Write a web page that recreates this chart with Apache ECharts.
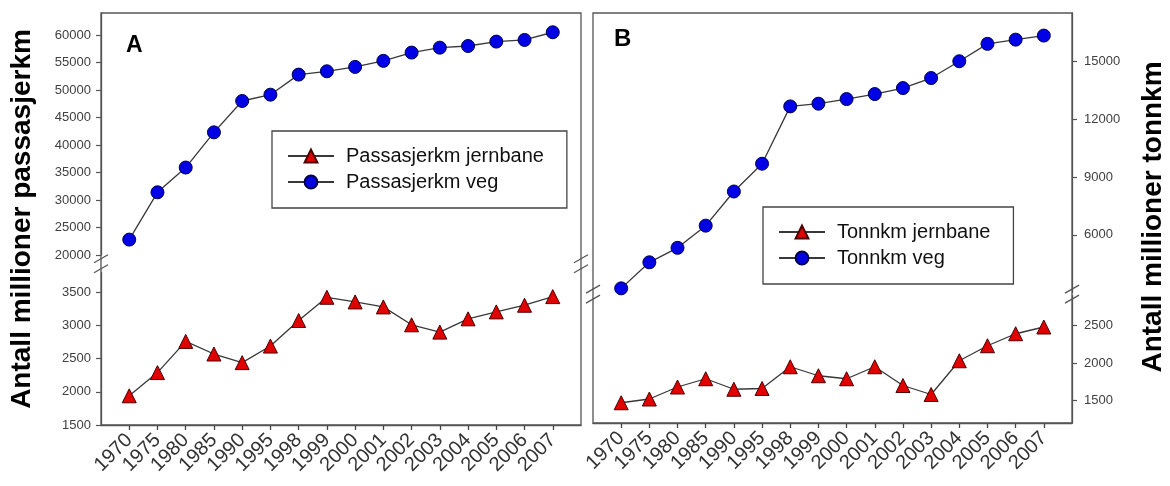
<!DOCTYPE html>
<html>
<head>
<meta charset="utf-8">
<script src="https://cdn.jsdelivr.net/npm/echarts@6/dist/echarts.min.js"></script>
<style>
  html, body { margin: 0; padding: 0; background: #fff; }
  #chart { width: 1170px; height: 486px; }
</style>
</head>
<body>
<div id="chart"></div>
<script>
// Passenger and freight transport in Norway, rail vs. road
const years = ['1970','1975','1980','1985','1990','1995','1998','1999','2000','2001','2002','2003','2004','2005','2006','2007'];

// Panel A: million passenger-km
const passRail = [1940, 2290, 2760, 2570, 2440, 2690, 3075, 3425, 3355, 3280, 3010, 2900, 3100, 3205, 3305, 3435];
const passRoad = [22800, 31400, 35900, 42300, 48000, 49150, 52800, 53400, 54200, 55300, 56800, 57700, 58000, 58800, 59100, 60500];

// Panel B: million tonne-km
const tonRail = [1470, 1520, 1680, 1790, 1650, 1660, 1950, 1830, 1790, 1950, 1700, 1580, 2030, 2230, 2390, 2480];
const tonRoad = [3230, 4580, 5330, 6480, 8250, 9690, 12660, 12800, 13040, 13300, 13610, 14130, 15000, 15900, 16120, 16330];

// Tick values on the broken y axes
const ticksAUpper = [20000, 25000, 30000, 35000, 40000, 45000, 50000, 55000, 60000];
const ticksALower = [1500, 2000, 2500, 3000, 3500];
const ticksBUpper = [6000, 9000, 12000, 15000];
const ticksBLower = [1500, 2000, 2500];

const FONT = '"Liberation Sans", Arial, Helvetica, sans-serif';
const FRAME = '#555';

// Panel layout: each panel is an upper and a lower grid sharing one frame
const PA = { left: 101, width: 480, top: 13, bottom: 425, upperBottom: 255, lowerTop: 272.4 };
const PB = { left: 593, width: 479, top: 13, bottom: 423, upperBottom: 292.8, lowerTop: 295.5 };

const idx = years.map((_, i) => i);
const toPairs = arr => arr.map((v, i) => [i, v]);

function grid(p, upper) {
  return upper
    ? { left: p.left, width: p.width, top: p.top, height: p.upperBottom - p.top }
    : { left: p.left, width: p.width, top: p.lowerTop, height: p.bottom - p.lowerTop };
}

function xAxis(gridIndex, showLabels) {
  return {
    type: 'value', gridIndex, min: -1, max: years.length,
    show: showLabels,
    splitLine: { show: false },
    axisLine: { show: true, onZero: false, lineStyle: { color: FRAME, width: 1.3 } },
    axisTick: { show: true, customValues: idx, length: 5, lineStyle: { color: '#444', width: 1.3 } },
    axisLabel: {
      customValues: idx, rotate: 45, margin: 12,
      formatter: v => years[v] || '',
      fontFamily: FONT, fontSize: 20, color: '#333'
    }
  };
}

function yAxis(gridIndex, min, max, ticks, position) {
  return {
    type: 'value', gridIndex, min, max, position,
    splitLine: { show: false },
    axisLine: { show: true, onZero: false, lineStyle: { color: FRAME, width: 1.3 } },
    axisTick: { show: true, customValues: ticks, length: 5, lineStyle: { color: FRAME, width: 1.2 } },
    axisLabel: {
      customValues: ticks, margin: position === 'right' ? 12 : 10,
      formatter: v => String(v),
      fontFamily: FONT, fontSize: 13, color: '#404040'
    }
  };
}

const lineStyle = { color: '#383838', width: 1.3 };
const triStyle = { color: '#e00000', borderColor: '#4a0000', borderWidth: 1 };
const dotStyle = { color: '#0000e6', borderColor: '#00004a', borderWidth: 1 };

function series(name, data, axisIndex, symbol, itemStyle) {
  return {
    name, type: 'line', data: toPairs(data),
    xAxisIndex: axisIndex, yAxisIndex: axisIndex,
    symbol, symbolSize: symbol === 'triangle' ? 14 : 13,
    lineStyle, itemStyle,
    emphasis: { disabled: true },
    z: 3
  };
}

function legend(names, left, top) {
  return {
    data: names, left, top, orient: 'vertical',
    padding: [15, 23, 16, 15],
    itemWidth: 46, itemHeight: 16, itemGap: 6,
    selectedMode: false,
    backgroundColor: '#fff', borderColor: '#444', borderWidth: 1.3,
    textStyle: { fontFamily: FONT, fontSize: 20, color: '#111', padding: [0, 0, 0, 7] }
  };
}

// Axis-break marks: two short slashes across a frame edge
function breakMarks(x, mid) {
  return [mid - 5, mid + 5].map(y => ({
    type: 'line', z: 5,
    shape: { x1: x - 7, y1: y + 4, x2: x + 7, y2: y - 4 },
    style: { stroke: FRAME, lineWidth: 1.3 }
  }));
}

function frame(p) {
  return {
    type: 'rect', z: 1,
    shape: { x: p.left, y: p.top, width: p.width, height: p.bottom - p.top },
    style: { fill: null, stroke: FRAME, lineWidth: 1.3 }
  };
}

const midA = (PA.upperBottom + PA.lowerTop) / 2;
const midB = (PB.upperBottom + PB.lowerTop) / 2;

const option = {
  animation: false,
  backgroundColor: '#fff',
  grid: [grid(PA, true), grid(PA, false), grid(PB, true), grid(PB, false)],
  xAxis: [xAxis(0, false), xAxis(1, true), xAxis(2, false), xAxis(3, true)],
  yAxis: [
    yAxis(0, 20000, 64000, ticksAUpper, 'left'),
    yAxis(1, 1500, 3800, ticksALower, 'left'),
    yAxis(2, 3000, 17500, ticksBUpper, 'right'),
    yAxis(3, 1200, 2900, ticksBLower, 'right')
  ],
  legend: [
    legend(['Passasjerkm jernbane', 'Passasjerkm veg'], 272, 131),
    legend(['Tonnkm jernbane', 'Tonnkm veg'], 763, 207)
  ],
  series: [
    series('Passasjerkm veg', passRoad, 0, 'circle', dotStyle),
    series('Passasjerkm jernbane', passRail, 1, 'triangle', triStyle),
    series('Tonnkm veg', tonRoad, 2, 'circle', dotStyle),
    series('Tonnkm jernbane', tonRail, 3, 'triangle', triStyle)
  ],
  graphic: [
    frame(PA), frame(PB),
    ...breakMarks(PA.left, midA), ...breakMarks(PA.left + PA.width, midA),
    ...breakMarks(PB.left, midB), ...breakMarks(PB.left + PB.width, midB),
    { type: 'text', x: 126, y: 34, z: 5,
      style: { text: 'A', font: 'bold 23px ' + FONT, fill: '#000' } },
    { type: 'text', x: 614, y: 27, z: 5,
      style: { text: 'B', font: 'bold 24px ' + FONT, fill: '#000' } },
    { type: 'text', x: 22, y: 219, rotation: Math.PI / 2, z: 5,
      style: { text: 'Antall millioner passasjerkm', font: 'bold 28px ' + FONT, fill: '#000',
               align: 'center', verticalAlign: 'middle' } },
    { type: 'text', x: 1153, y: 217, rotation: Math.PI / 2, z: 5,
      style: { text: 'Antall millioner tonnkm', font: 'bold 28px ' + FONT, fill: '#000',
               align: 'center', verticalAlign: 'middle' } }
  ]
};

echarts.init(document.getElementById('chart'), null, { renderer: 'canvas' }).setOption(option);
</script>
</body>
</html>
